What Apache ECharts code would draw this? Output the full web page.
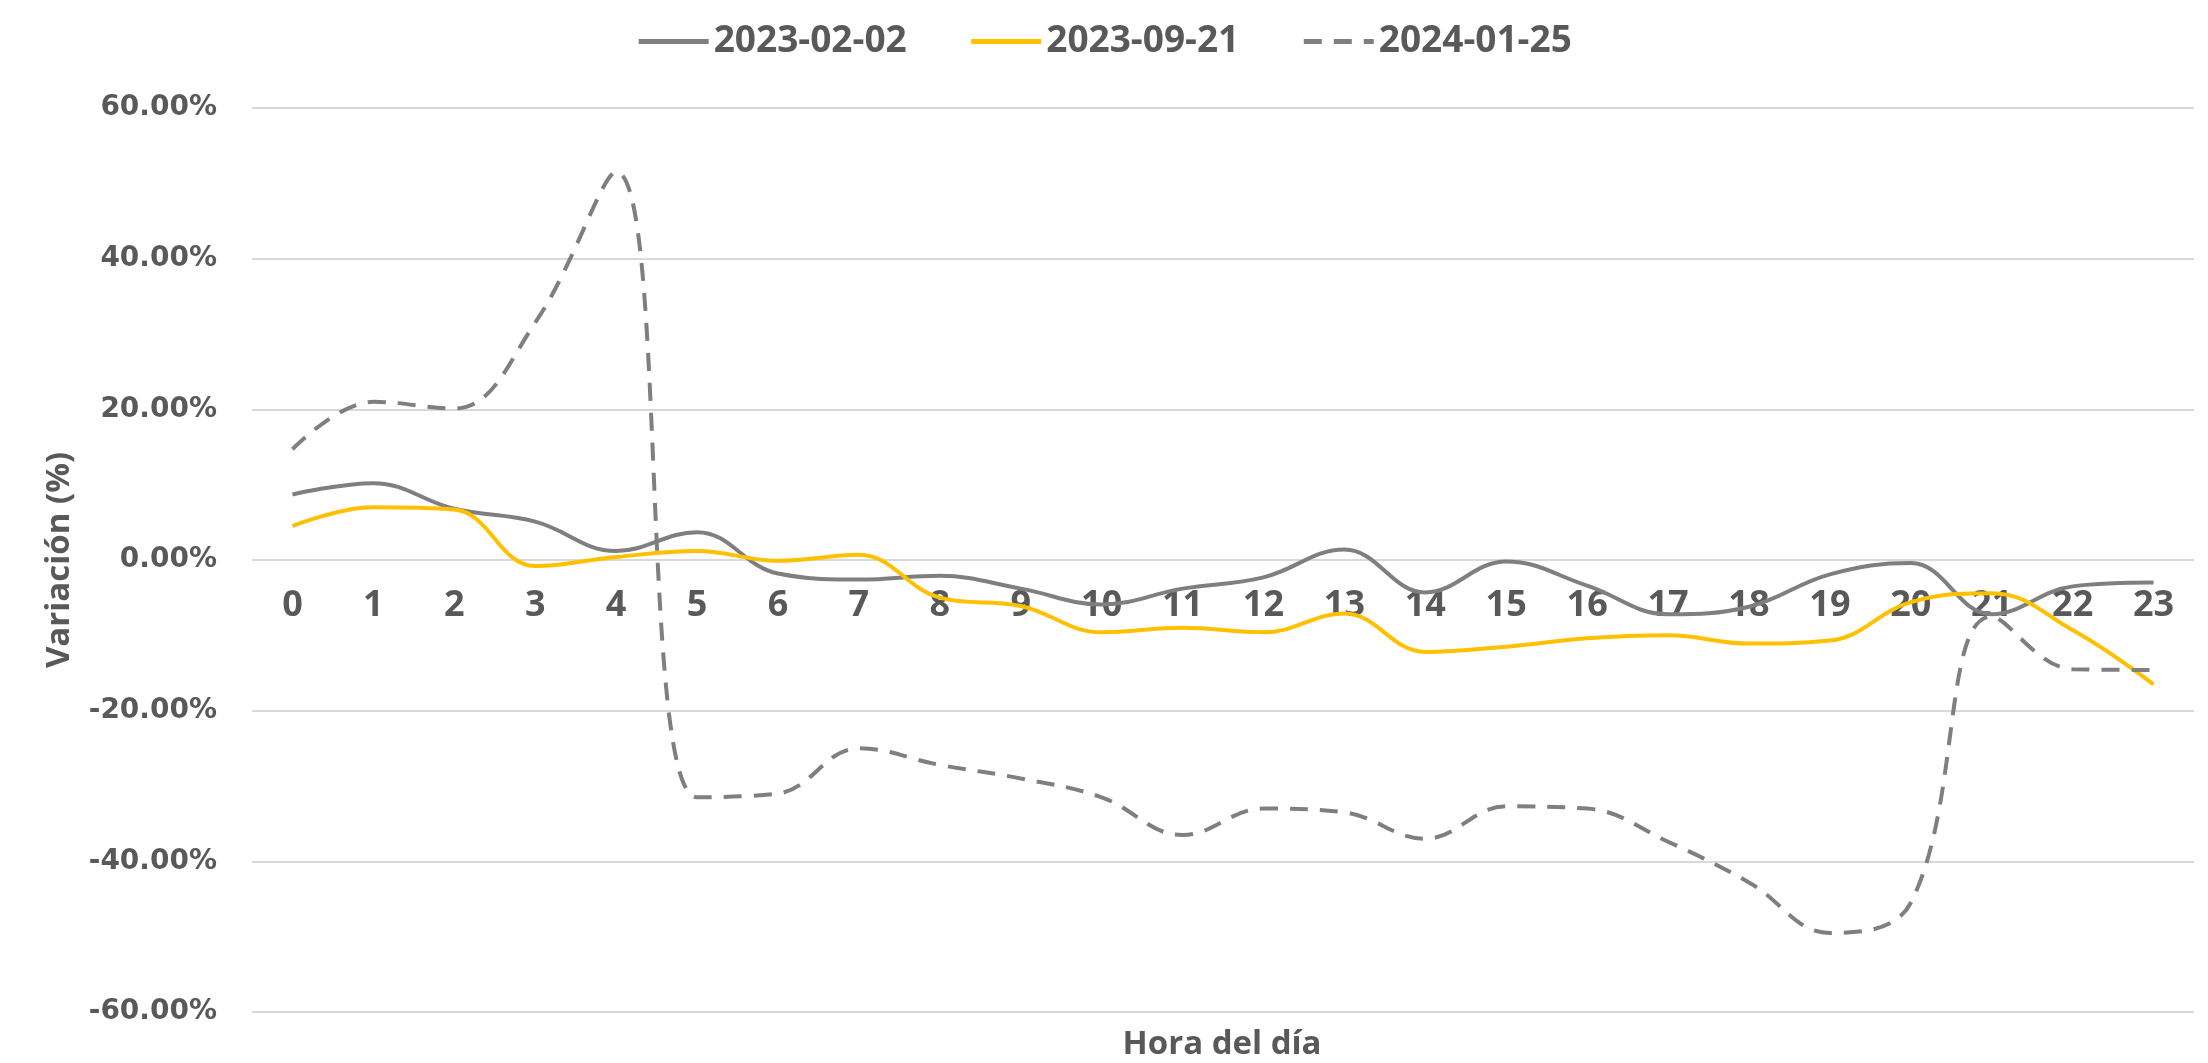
<!DOCTYPE html>
<html>
<head>
<meta charset="utf-8">
<script src="https://cdn.jsdelivr.net/npm/echarts@6/dist/echarts.min.js"></script>
<style>
  html, body { margin: 0; padding: 0; background: #fff; }
  #chart { width: 2208px; height: 1063px; }
</style>
</head>
<body>
<div id="chart"></div>
<script>
// horas del día 0..23
const hours = ['0','1','2','3','4','5','6','7','8','9','10','11','12','13','14','15','16','17','18','19','20','21','22','23'];
const seriesNames = ['2023-02-02', '2023-09-21', '2024-01-25'];

// variación en %
const var20230202 = [8.7, 10.2, 6.8, 5.1, 1.2, 3.7, -1.8, -2.6, -2.1, -3.8, -5.9, -3.8,
                     -2.3, 1.4, -4.3, -0.2, -3.4, -7.2, -6.2, -1.9, -0.4, -7.2, -3.5, -3.0];
const var20230921 = [4.5, 7.0, 6.7, -0.8, 0.4, 1.2, -0.1, 0.7, -5.0, -6.1, -9.6, -9.0,
                     -9.6, -7.1, -12.2, -11.5, -10.4, -10.0, -11.1, -10.7, -5.6, -4.4, -9.3, -16.5];
const var20240125 = [14.7, 21.0, 20.1, 31.5, 51.5, -31.5, -31.0, -25.0, -27.2, -29.0, -31.5, -36.5,
                     -33.0, -33.5, -37.0, -32.7, -33.0, -37.4, -42.8, -49.5, -45.5, -7.5, -14.5, -14.6];

const yTicks = { min: -60, max: 60, interval: 20 };

const gridTop = 108, gridBottom = 51;
const chartH = 1063;

const chart = echarts.init(document.getElementById('chart'));
const labelColor = '#595959';

function lineSeries(name, data, color, dashed) {
  return {
    name: name,
    type: 'line',
    data: data,
    smooth: 0.4,
    symbol: 'none',
    showSymbol: false,
    lineStyle: { color: color, width: 4, type: dashed ? [18, 12] : 'solid' },
    itemStyle: { color: color }
  };
}

// las etiquetas del eje x van pegadas a la línea del 0%
const plotH = chartH - gridTop - gridBottom;
const zeroOffset = -plotH * (0 - yTicks.min) / (yTicks.max - yTicks.min);

const option = {
  animation: false,
  backgroundColor: '#fff',
  grid: { left: 252, right: 14, top: gridTop, bottom: gridBottom },
  legend: {
    top: 18,
    left: 'center',
    itemWidth: 70,
    itemHeight: 14,
    itemGap: 62,
    itemStyle: { opacity: 0 },
    lineStyle: { width: 5 },
    textStyle: { color: labelColor, fontFamily: 'Open Sans', fontWeight: 'bold', fontSize: 37 },
    data: seriesNames
  },
  xAxis: {
    type: 'category',
    data: hours,
    boundaryGap: true,
    offset: zeroOffset,
    axisLine: { show: false, onZero: false },
    axisTick: { show: false },
    axisLabel: { color: labelColor, fontFamily: 'Open Sans', fontWeight: 'bold', fontSize: 36, margin: 28 }
  },
  yAxis: {
    type: 'value',
    min: yTicks.min,
    max: yTicks.max,
    interval: yTicks.interval,
    name: 'Variación (%)',
    nameLocation: 'middle',
    nameRotate: 90,
    nameGap: 176,
    nameTextStyle: { color: labelColor, fontFamily: 'Open Sans', fontWeight: 'bold', fontSize: 33 },
    axisLine: { show: false },
    axisTick: { show: false },
    axisLabel: {
      color: labelColor, fontFamily: 'DejaVu Sans', fontWeight: 'bold', fontSize: 28, margin: 35,
      formatter: v => v.toFixed(2) + '%'
    },
    splitLine: { lineStyle: { color: '#d9d9d9', width: 2 } }
  },
  graphic: [{
    type: 'text',
    x: 1222,
    y: 1045,
    style: {
      text: 'Hora del día',
      align: 'center',
      verticalAlign: 'middle',
      fill: labelColor,
      font: 'bold 33px "Open Sans"'
    }
  }],
  series: [
    lineSeries(seriesNames[0], var20230202, '#7f7f7f', false),
    lineSeries(seriesNames[1], var20230921, '#ffc000', false),
    lineSeries(seriesNames[2], var20240125, '#7f7f7f', true)
  ]
};

chart.setOption(option);
</script>
</body>
</html>
